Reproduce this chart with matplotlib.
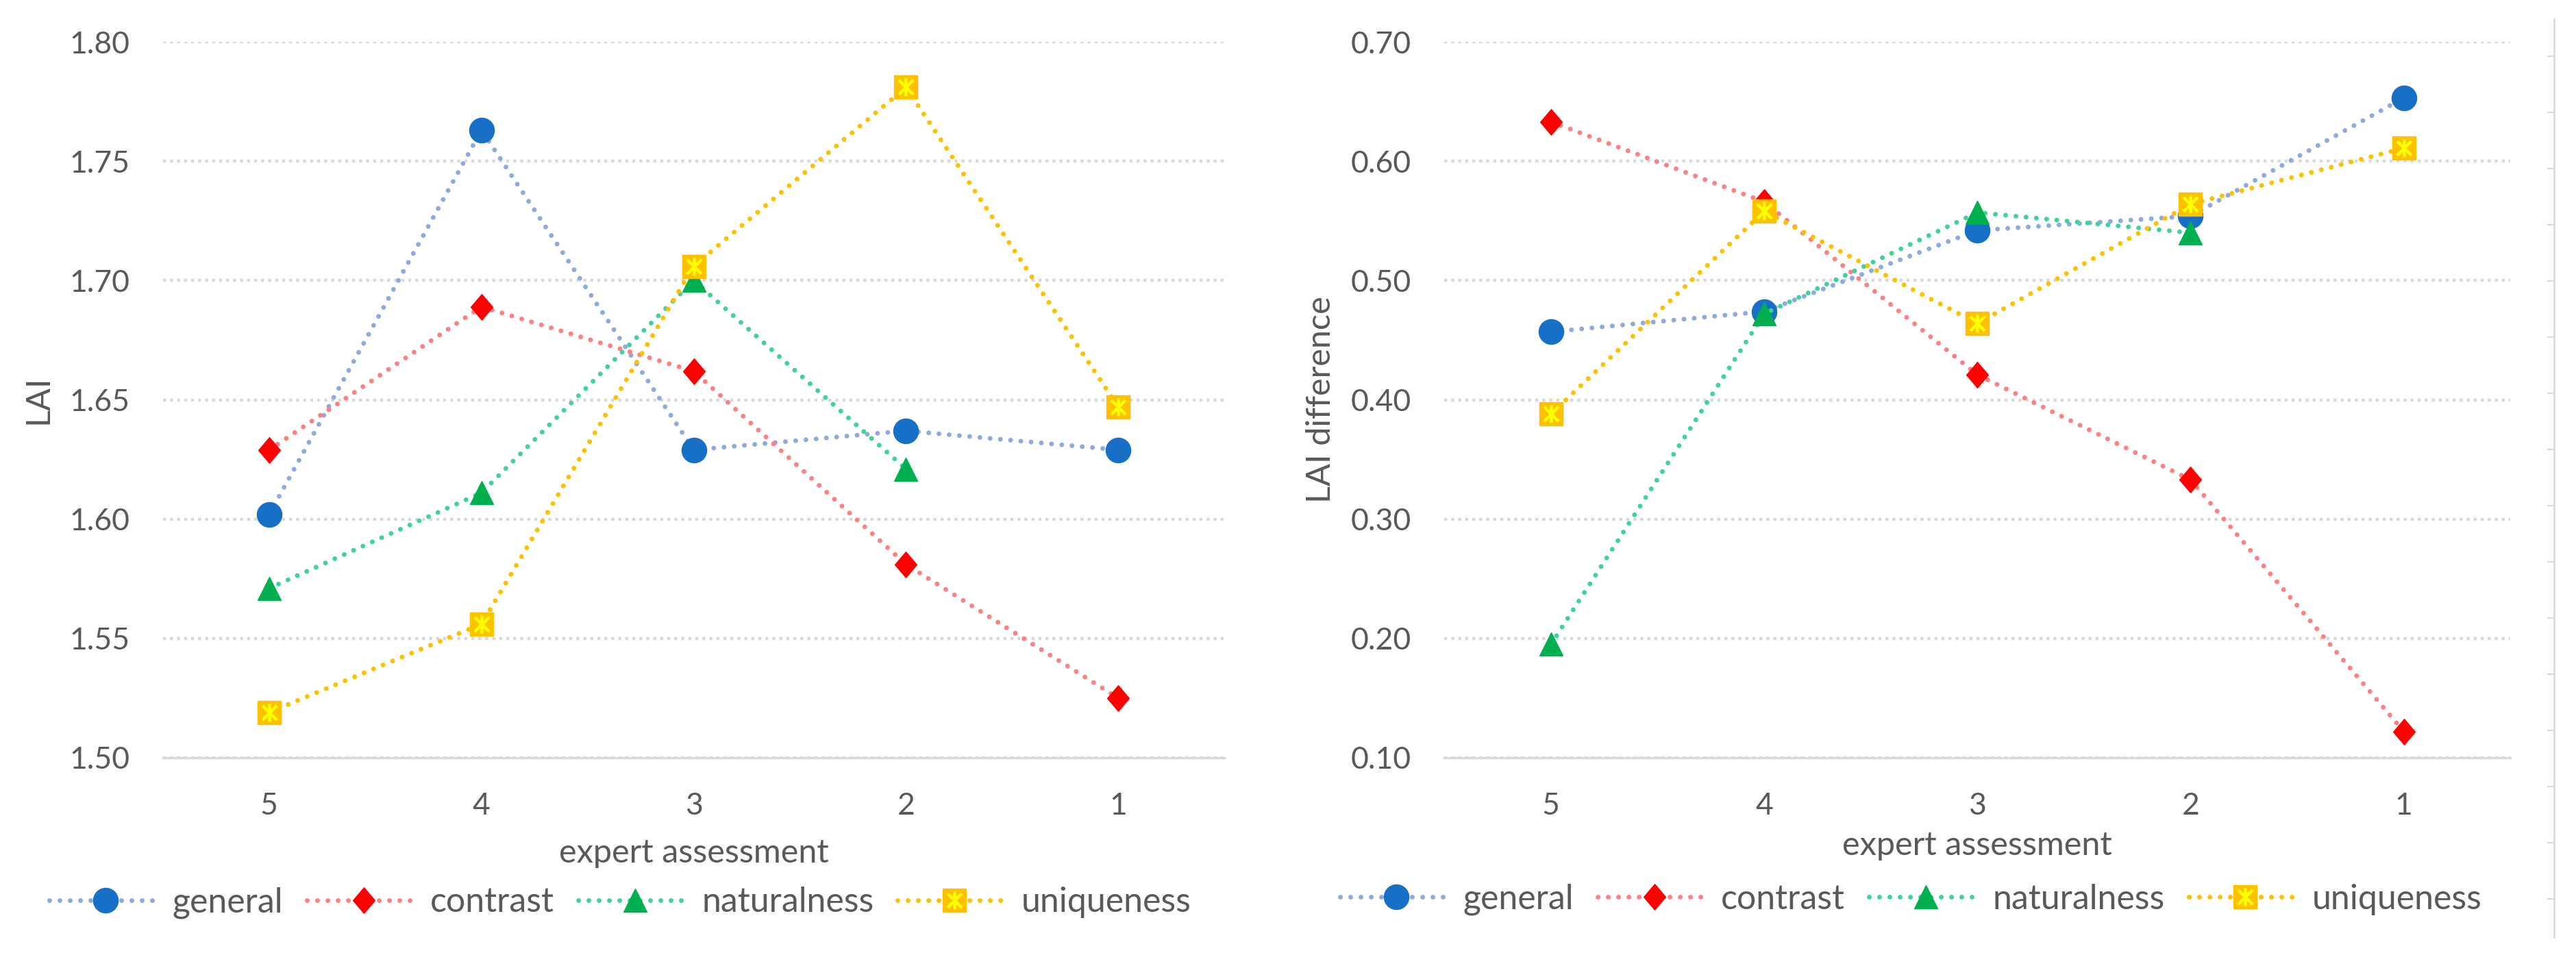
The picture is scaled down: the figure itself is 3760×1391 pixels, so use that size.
import numpy as np
import matplotlib
matplotlib.use('Agg')
import matplotlib.pyplot as plt
from matplotlib.path import Path
from matplotlib.legend_handler import HandlerTuple

plt.rcParams['font.family'] = ['Lato', 'DejaVu Sans']

# data
categories = ['5', '4', '3', '2', '1']
series_names = ['general', 'contrast', 'naturalness', 'uniqueness']

lai_general = [1.602, 1.763, 1.629, 1.637, 1.629]
lai_contrast = [1.629, 1.689, 1.662, 1.581, 1.525]
lai_naturalness = [1.571, 1.611, 1.700, 1.621, np.nan]
lai_uniqueness = [1.519, 1.556, 1.706, 1.781, 1.647]

diff_general = [0.457, 0.474, 0.542, 0.554, 0.653]
diff_contrast = [0.633, 0.566, 0.421, 0.333, 0.122]
diff_naturalness = [0.195, 0.472, 0.557, 0.540, np.nan]
diff_uniqueness = [0.388, 0.558, 0.464, 0.564, 0.611]

lai_ticks = [1.50, 1.55, 1.60, 1.65, 1.70, 1.75, 1.80]
diff_ticks = [0.10, 0.20, 0.30, 0.40, 0.50, 0.60, 0.70]

text_col = '#595959'
grid_col = '#D9D9D9'

diamond = Path([(0, 1), (0.85, 0), (0, -1), (-0.85, 0), (0, 1)],
               [Path.MOVETO, Path.LINETO, Path.LINETO, Path.LINETO, Path.CLOSEPOLY])
star = Path([(0, -1), (0, 1), (-0.8, -0.8), (0.8, 0.8), (-0.8, 0.8), (0.8, -0.8)],
            [Path.MOVETO, Path.LINETO, Path.MOVETO, Path.LINETO, Path.MOVETO, Path.LINETO])

styles = {
    'general': dict(color='#8FAADC', marker='o', ms=26, mfc='#1870C6', mec='#1870C6'),
    'contrast': dict(color='#FF8080', marker=diamond, ms=27, mfc='#FF0000', mec='#FF0000'),
    'naturalness': dict(color='#3CD39E', marker='^', ms=24, mfc='#00B050', mec='#00B050'),
    'uniqueness': dict(color='#FFC000', marker='s', ms=24, mfc='#FFC000', mec='#FFC000'),
}

x = np.arange(len(categories))


def draw(ax, data, ticks, ylabel):
    handles = []
    for name, vals in zip(series_names, data):
        st = styles[name]
        line, = ax.plot(x, vals, color=st['color'], lw=5, dashes=(0.01, 2.15),
                        dash_capstyle='round', marker=st['marker'], ms=st['ms'],
                        mfc=st['mfc'], mec=st['mec'], mew=1, label=name)
        h = line
        if name == 'uniqueness':
            over, = ax.plot(x, vals, ls='none', marker=star, ms=19, mec='#FFFF00',
                            mew=3.2, mfc='none')
            h = (line, over)
        handles.append(h)

    ax.set_xlim(-0.5, len(categories) - 0.5)
    ax.set_ylim(ticks[0], ticks[-1])
    ax.set_xticks(x)
    ax.set_xticklabels(categories)
    ax.set_yticks(ticks)
    ax.set_yticklabels([f'{t:.2f}' for t in ticks])
    ax.tick_params(axis='both', length=0, labelsize=32, labelcolor=text_col)
    ax.tick_params(axis='x', pad=36)
    ax.tick_params(axis='y', pad=35)
    for s in ['top', 'right', 'left']:
        ax.spines[s].set_visible(False)
    ax.spines['bottom'].set_color(grid_col)
    ax.spines['bottom'].set_linewidth(2.5)
    ax.yaxis.grid(True, color=grid_col, lw=3.2, dashes=(1, 1.3))
    ax.set_axisbelow(True)

    ax.set_xlabel('expert assessment', fontsize=35, color=text_col)
    ax.set_ylabel(ylabel, fontsize=35, color=text_col)
    ax.xaxis.label.set_va('center')
    ax.yaxis.label.set_va('center')
    return handles


fig = plt.figure(figsize=(37.6, 13.91), dpi=100)
ax1 = fig.add_axes([0.0633, 0.205, 0.4120, 0.751])
ax2 = fig.add_axes([0.5607, 0.205, 0.4138, 0.751])

h1 = draw(ax1, [lai_general, lai_contrast, lai_naturalness, lai_uniqueness], lai_ticks, 'LAI')
h2 = draw(ax2, [diff_general, diff_contrast, diff_naturalness, diff_uniqueness], diff_ticks, 'LAI difference')

ax1.xaxis.set_label_coords(0.5, -0.133)
ax2.xaxis.set_label_coords(0.5, -0.123)
ax1.yaxis.set_label_coords(-0.1175, 0.5)
ax2.yaxis.set_label_coords(-0.116, 0.5)

for h, cx, cy in [(h1, 0.2407, 0.053), (h2, 0.7418, 0.056)]:
    fig.legend(h, series_names, loc='center', bbox_to_anchor=(cx, cy),
               ncol=4, frameon=False, fontsize=36, labelcolor=text_col,
               handlelength=3.3, handletextpad=0.3, columnspacing=0.7,
               numpoints=1, handler_map={tuple: HandlerTuple(ndivide=1)})

# edge of a neighbouring chart at the far right
ax3 = fig.add_axes([0.9915, 0.0165, 0.0001, 0.9635])
ax3.set_ylim(1368, 28)
ax3.set_yticks(np.arange(82, 1368, 82))
ax3.set_yticklabels([])
ax3.set_xticks([])
for s in ['top', 'right', 'bottom']:
    ax3.spines[s].set_visible(False)
ax3.spines['left'].set_color(grid_col)
ax3.spines['left'].set_linewidth(2)
ax3.tick_params(axis='y', length=7, width=1.5, color=grid_col)

fig.savefig('out.png', dpi=100)
